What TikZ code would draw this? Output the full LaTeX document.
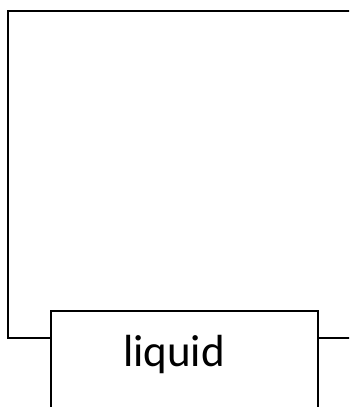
\documentclass[tikz,border=0pt]{standalone}
\usepackage{fontspec}
\setmainfont{Carlito}
\begin{document}
\begin{tikzpicture}[x=1pt,y=1pt,
  frameline/.style={line width=1.8pt,black},
  boxstyle/.style={draw,line width=1.8pt,black,fill=white,inner sep=0pt,
    minimum width=267pt,minimum height=140pt,anchor=north west},
  tagtext/.style={font=\fontsize{45}{54}\selectfont,inner sep=0pt,anchor=base}]
  \useasboundingbox (0,0) rectangle (349,407);
  \clip (0,0) rectangle (349,407);
  % outer frame, open at the bottom where the box sits
  \coordinate (tr) at (360,396);
  \coordinate (tl) at (8,396);
  \coordinate (bl) at (8,69);
  \coordinate (br) at (360,69);
  % the liquid box
  \node[boxstyle] (liq) at (50,97) {};
  \node[tagtext] (liqtext) at (174,40) {liquid};
  \draw[frameline] (tr) -- (tl) -- (bl) -- (bl -| liq.west);
  \draw[frameline] (br -| liq.east) -- (br);
\end{tikzpicture}
\end{document}
